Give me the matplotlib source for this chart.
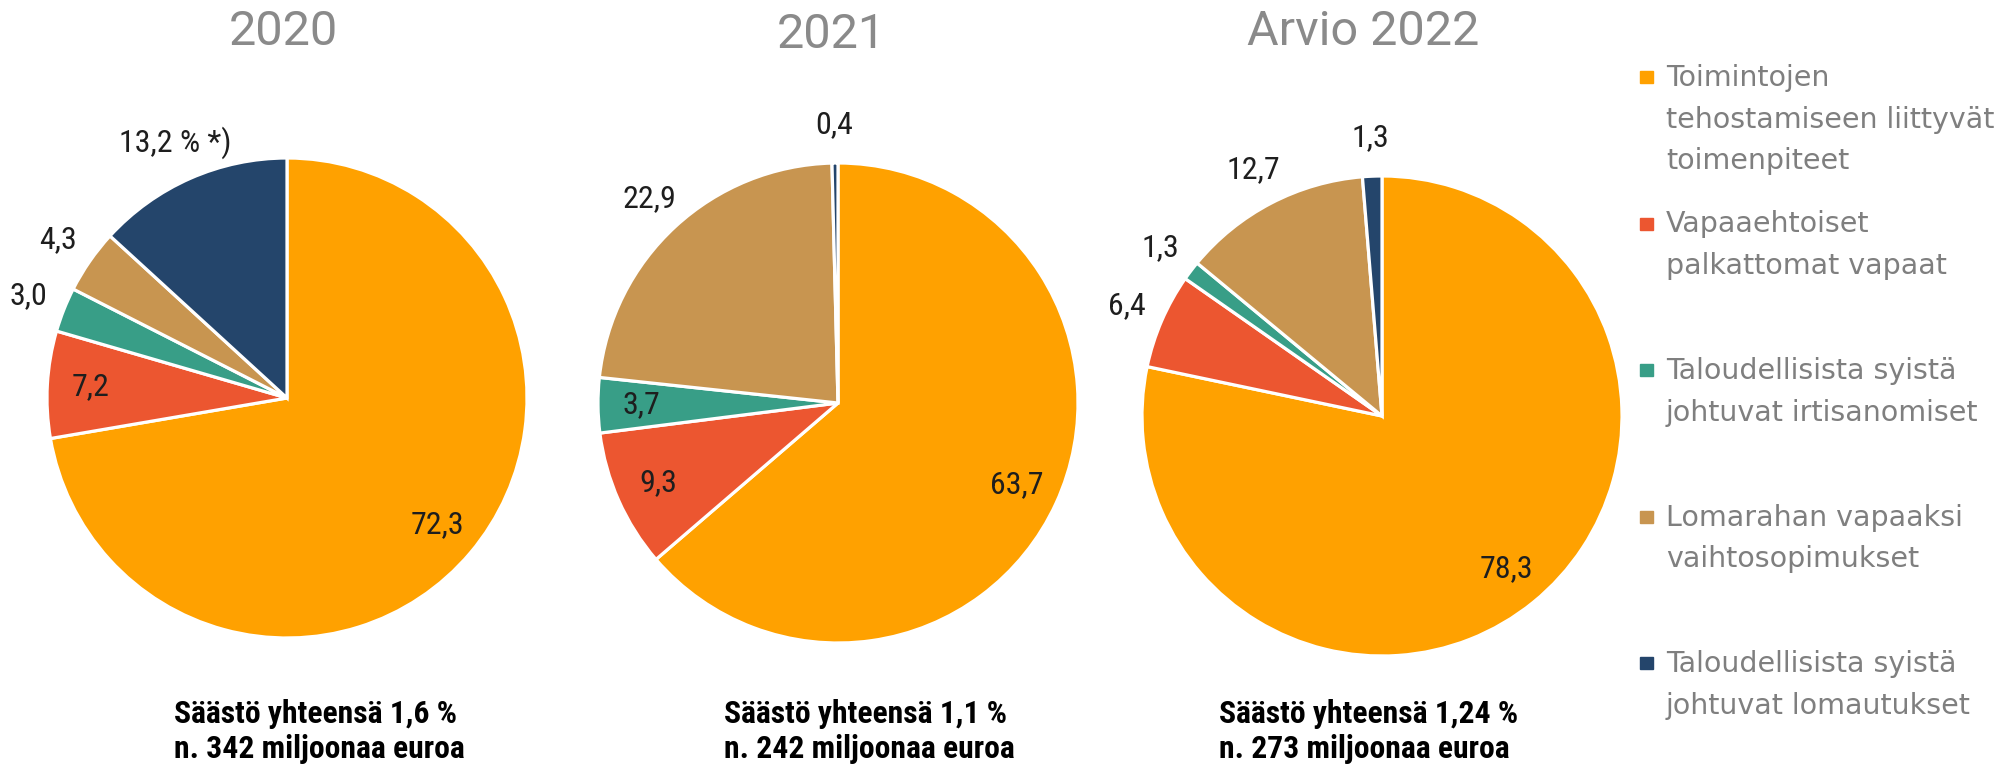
import matplotlib
matplotlib.use("Agg")
import numpy as np
import matplotlib.pyplot as plt
from matplotlib.patches import Rectangle
from matplotlib import font_manager

W, H = 2005, 764

years = ["2020", "2021", "Arvio 2022"]
categories = [
    "Toimintojen\ntehostamiseen liittyvät\ntoimenpiteet",
    "Vapaaehtoiset\npalkattomat vapaat",
    "Taloudellisista syistä\njohtuvat irtisanomiset",
    "Lomarahan vapaaksi\nvaihtosopimukset",
    "Taloudellisista syistä\njohtuvat lomautukset",
]
values_2020 = [72.3, 7.2, 3.0, 4.3, 13.2]
values_2021 = [63.7, 9.3, 3.7, 22.9, 0.4]
values_2022 = [78.3, 6.4, 1.3, 12.7, 1.3]
label_suffix_2020 = ["", "", "", "", " % *)"]
totals = [
    "Säästö yhteensä 1,6 %\nn. 342 miljoonaa euroa",
    "Säästö yhteensä 1,1 %\nn. 242 miljoonaa euroa",
    "Säästö yhteensä 1,24 %\nn. 273 miljoonaa euroa",
]

colors = ["#FFA100", "#EC5630", "#389E87", "#C89550", "#24456B"]

# pick a narrow font if one is around
names = {f.name for f in font_manager.fontManager.ttflist}
narrow = next((n for n in ["Roboto Condensed", "Liberation Sans Narrow", "Open Sans Condensed"]
               if n in names), None)
narrow_fam = [narrow, "Roboto", "DejaVu Sans"] if narrow else ["Roboto", "DejaVu Sans"]

# layout in pixels (from top-left)
centers = [(287, 398), (838, 403), (1382, 416)]
radius = 240
title_pos = [(283, 32), (831, 35), (1363, 32)]
total_x = [174, 724, 1219]
outside = [[2, 3, 4], [3, 4], [1, 2, 3, 4]]

fig = plt.figure(figsize=(W / 100, H / 100), dpi=100)

all_values = [values_2020, values_2021, values_2022]
suffixes = [label_suffix_2020, [""] * 5, [""] * 5]

lim = 1.45
for k, vals in enumerate(all_values):
    cx, cy = centers[k]
    half = radius * lim
    ax = fig.add_axes([(cx - half) / W, 1 - (cy + half) / H, 2 * half / W, 2 * half / H])
    wedges, _ = ax.pie(vals, colors=colors, startangle=90, counterclock=False,
                       radius=1, wedgeprops=dict(edgecolor="white", linewidth=2.3))
    ax.set_xlim(-lim, lim)
    ax.set_ylim(-lim, lim)
    ax.set_aspect("equal")
    ax.axis("off")
    for i, w in enumerate(wedges):
        mid = np.deg2rad((w.theta1 + w.theta2) / 2)
        d = 1.16 if i in outside[k] else 0.82
        txt = f"{vals[i]:.1f}".replace(".", ",") + suffixes[k][i]
        ax.text(d * np.cos(mid), d * np.sin(mid), txt, ha="center", va="center",
                fontsize=23 if narrow else 21, family=narrow_fam, color="#1e1e1e")

    tx, ty = title_pos[k]
    fig.text(tx / W, 1 - ty / H, years[k], ha="center", va="center", fontsize=35,
             family=["Roboto", "DejaVu Sans"], color="#8a8a8a")

    fig.text(total_x[k] / W, 1 - 699 / H, totals[k], ha="left", va="top",
             fontsize=22.8 if narrow else 19, fontweight="bold", linespacing=1.22,
             family=narrow_fam, color="black")

# legend
leg_y0, leg_step = 77, 146.5
for i, lab in enumerate(categories):
    yc = leg_y0 + i * leg_step
    fig.patches.append(Rectangle((1640 / W, 1 - (yc + 6) / H), 13 / W, 12 / H,
                                 transform=fig.transFigure, color=colors[i]))
    fig.text(1666 / W, 1 - (yc - 13) / H, lab, ha="left", va="top",
             fontsize=20.5, family=["DejaVu Sans"], color="#7f7f7f", linespacing=1.62)

fig.savefig("out.png", dpi=100)
